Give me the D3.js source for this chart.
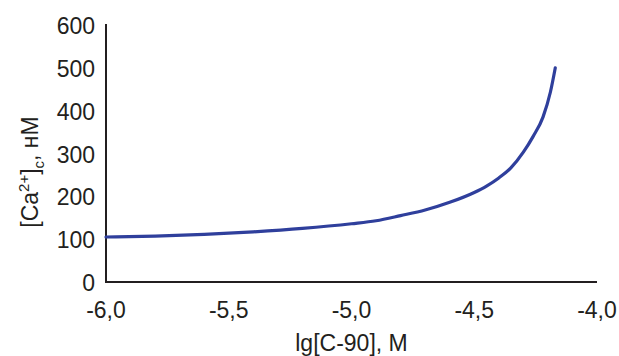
<!DOCTYPE html>
<html>
<head>
<meta charset="utf-8">
<script src="https://cdn.jsdelivr.net/npm/d3@7"></script>
<style>
  body { margin: 0; background: #fff; }
  svg { display: block; font-family: "Liberation Sans", Arial, sans-serif; }
</style>
</head>
<body>
<svg id="chart" width="619" height="356"></svg>
<script>
// lg concentration of C-90 (M) vs cytosolic Ca2+ (nM)
const lgConc = [-6.0, -5.8, -5.6, -5.4, -5.2, -5.0, -4.9, -4.8, -4.7, -4.6, -4.5, -4.45, -4.4, -4.35, -4.3, -4.26, -4.22, -4.19, -4.17]
const caValues = [105, 107, 111, 117, 125, 136, 143, 155, 168, 186, 209, 224, 243, 267, 303, 340, 385, 443, 500]
const xTicks = [-6.0, -5.5, -5.0, -4.5, -4.0]
const yTicks = [0, 100, 200, 300, 400, 500, 600]

const svg = d3.select("#chart")
const x0 = 106, x1 = 597, yTop = 25, yBottom = 282
const textColor = "#231f20"
const fontSize = "23px"

const x = d3.scaleLinear().domain([-6, -4]).range([x0, x1])
const y = d3.scaleLinear().domain([0, 600]).range([yBottom, yTop])

const fmt = d => d.toFixed(1).replace(".", ",")

// axes lines
svg.append("line")
  .attr("x1", x0).attr("x2", x0).attr("y1", yTop - 1).attr("y2", yBottom)
  .attr("stroke", textColor).attr("stroke-width", 2)
svg.append("line")
  .attr("x1", x0 - 1).attr("x2", x1).attr("y1", yBottom).attr("y2", yBottom)
  .attr("stroke", textColor).attr("stroke-width", 2)

// y tick labels
svg.selectAll(".ytick")
  .data(yTicks)
  .enter()
  .append("text")
  .attr("class", "ytick")
  .attr("x", 95)
  .attr("y", d => y(d) + 9)
  .attr("text-anchor", "end")
  .attr("font-size", fontSize)
  .attr("fill", textColor)
  .text(d => d)

// x tick labels
svg.selectAll(".xtick")
  .data(xTicks)
  .enter()
  .append("text")
  .attr("class", "xtick")
  .attr("x", d => x(d))
  .attr("y", 318)
  .attr("text-anchor", "middle")
  .attr("font-size", fontSize)
  .attr("fill", textColor)
  .text(d => fmt(d))

// x title
svg.append("text")
  .attr("x", x(-5))
  .attr("y", 351)
  .attr("text-anchor", "middle")
  .attr("font-size", fontSize)
  .attr("fill", textColor)
  .text("lg[C-90], М")

// y title
const yTitle = svg.append("text")
  .attr("transform", "translate(38,172) rotate(-90)")
  .attr("text-anchor", "middle")
  .attr("font-size", fontSize)
  .attr("fill", textColor)
yTitle.append("tspan").text("[Ca")
yTitle.append("tspan").attr("dy", -9).attr("font-size", "15px").text("2+")
yTitle.append("tspan").attr("dy", 9).text("]")
yTitle.append("tspan").attr("dy", 6).attr("font-size", "15px").text("c")
yTitle.append("tspan").attr("dy", -6).text(", нМ")

// curve
const line = d3.line()
  .x((d, i) => x(lgConc[i]))
  .y(d => y(d))
  .curve(d3.curveMonotoneX)

svg.append("path")
  .datum(caValues)
  .attr("d", line)
  .attr("fill", "none")
  .attr("stroke", "#2f3f9c")
  .attr("stroke-width", 3.2)
  .attr("stroke-linecap", "round")
</script>
</body>
</html>
